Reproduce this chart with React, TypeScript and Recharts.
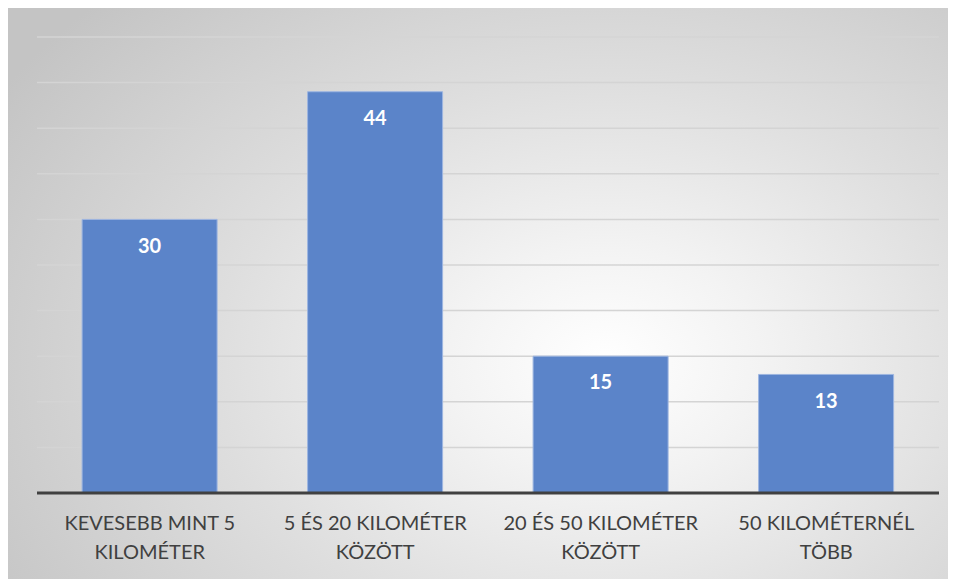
import React from "react";
import { BarChart, Bar, XAxis, YAxis, CartesianGrid, LabelList } from "recharts";

// távolság kategóriák (sortöréssel, ahogy a képen)
const categories = [
  "KEVESEBB MINT 5\nKILOMÉTER",
  "5 ÉS 20 KILOMÉTER\nKÖZÖTT",
  "20 ÉS 50 KILOMÉTER\nKÖZÖTT",
  "50 KILOMÉTERNÉL\nTÖBB",
];
const values = [30, 44, 15, 13];
const yTicks = [0, 5, 10, 15, 20, 25, 30, 35, 40, 45, 50];

const data = categories.map((name, i) => ({ name, value: values[i] }));

const CategoryTick = (props: any) => {
  const { x, y, payload } = props;
  const lines: string[] = String(payload.value).split("\n");
  return (
    <g transform={`translate(${x},${y})`}>
      {lines.map((line, i) => (
        <text
          key={i}
          x={0}
          y={29 + i * 29}
          textAnchor="middle"
          fill="#404040"
          fontSize={20}
          fontFamily="Lato, 'Open Sans', sans-serif"
        >
          {line}
        </text>
      ))}
    </g>
  );
};

export default function App() {
  return (
    <div
      style={{
        width: 949,
        height: 572,
        marginLeft: -1,
        marginTop: -1,
        boxSizing: "border-box",
        borderTop: "1px solid #bdbdbd",
        borderLeft: "1px solid #bdbdbd",
        background:
          "radial-gradient(ellipse 75% 90% at 63% 62%, #ffffff 0%, #f3f3f3 22%, #dedede 55%, #c4c4c4 100%)",
      }}
    >
      <BarChart
        width={948}
        height={571}
        data={data}
        margin={{ top: 29, right: 17, left: 29, bottom: 6 }}
        barCategoryGap="20%"
      >
        <CartesianGrid vertical={false} stroke="#d4d4d4" strokeWidth={1.5} />
        <YAxis hide domain={[0, 50]} ticks={yTicks} />
        <XAxis
          dataKey="name"
          axisLine={{ stroke: "#404040", strokeWidth: 3 }}
          tickLine={false}
          tick={<CategoryTick />}
          interval={0}
          height={80}
        />
        <Bar dataKey="value" fill="#5b84c9" stroke="#9db5e0" strokeWidth={1} isAnimationActive={false}>
          <LabelList
            dataKey="value"
            position="insideTop"
            offset={19}
            fill="#ffffff"
            fontSize={20}
            fontWeight="bold"
            fontFamily="Lato, 'Open Sans', sans-serif"
          />
        </Bar>
      </BarChart>
    </div>
  );
}
